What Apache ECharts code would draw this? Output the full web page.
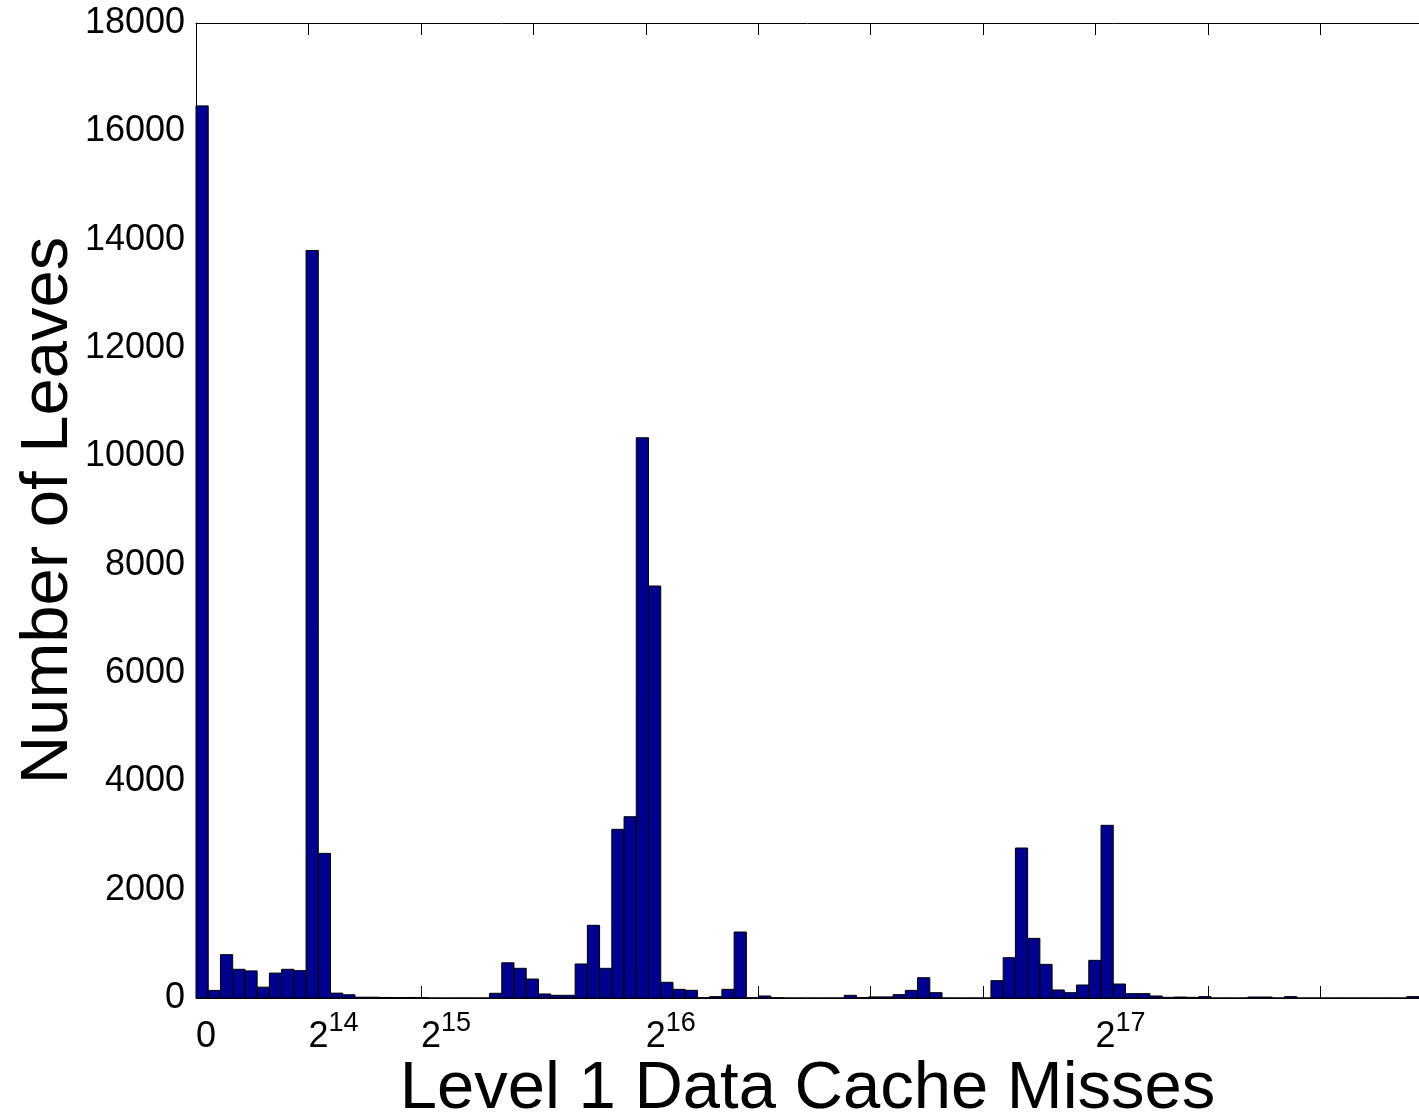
<!DOCTYPE html>
<html>
<head>
<meta charset="utf-8">
<script src="https://cdn.jsdelivr.net/npm/echarts@6/dist/echarts.min.js"></script>
<style>
  html, body { margin: 0; padding: 0; background: #fff; }
  #chart { width: 1419px; height: 1119px; }
</style>
</head>
<body>
<div id="chart"></div>
<script>
// Histogram: 100 equal bins of L1 data cache misses
var binWidth = 1782;
var binCount = 100;
var counts = [
  16470, 140, 800, 530, 500, 200, 460, 530, 505, 13800,
  2670, 90, 60, 15, 15, 10, 8, 10, 10, 0,
  0, 0, 0, 0, 87, 650, 548, 350, 74, 50,
  50, 628, 1342, 548, 3114, 3347, 10343, 7606, 290, 160,
  142, 5, 25, 160, 1218, 5, 37, 5, 0, 0,
  0, 0, 0, 50, 8, 20, 20, 62, 141, 375,
  98, 0, 0, 0, 0, 320, 744, 2769, 1101, 621,
  148, 98, 240, 695, 3188, 258, 80, 80, 37, 12,
  18, 12, 25, 0, 0, 0, 18, 18, 0, 25,
  0, 0, 0, 0, 0, 0, 0, 0, 0, 25
];
var xTickValues = [0, 16384, 32768, 65536, 131072];
var xTickBases = ['0', '2', '2', '2', '2'];
var xTickExponents = [' ', '14', '15', '16', '17'];
var yTicks = { min: 0, max: 18000, interval: 2000 };
var xTickInterval = 16384;

var histData = counts.map(function (c, i) { return [i * binWidth, (i + 1) * binWidth, c]; });

var chart = echarts.init(document.getElementById('chart'));
var font = 'Liberation Sans, Arial, Helvetica, sans-serif';
var xMax = binCount * binWidth;

chart.setOption({
  animation: false,
  backgroundColor: '#ffffff',
  textStyle: { fontFamily: font, color: '#000' },
  grid: { left: 196, right: 0, top: 23, bottom: 121, containLabel: false, outerBoundsMode: 'none' },
  xAxis: [
    {
      type: 'value', position: 'bottom',
      min: 0, max: xMax, interval: xTickInterval,
      name: 'Level 1 Data Cache Misses', nameLocation: 'middle', nameGap: 58, nameMoveOverlap: false,
      nameTextStyle: { fontSize: 67, color: '#000', fontFamily: font },
      axisLine: { show: true, lineStyle: { color: '#000', width: 1 } },
      axisTick: { show: true, inside: true, length: 12, lineStyle: { color: '#000', width: 1 } },
      splitLine: { show: false },
      axisLabel: {
        show: true, margin: 20, align: 'left', showMinLabel: true, showMaxLabel: false,
        color: '#000', fontFamily: font, fontSize: 27, lineHeight: 12,
        formatter: function (v) {
          var k = xTickValues.indexOf(v);
          if (k < 0) return '';
          // exponent on the first (short) line, shifted right past the base digit
          return '{g|}{s|' + xTickExponents[k] + '}\n{b|' + xTickBases[k] + '}';
        },
        rich: {
          g: { width: 20, lineHeight: 12, fontSize: 27 },
          s: { fontSize: 27, lineHeight: 12, fontFamily: font, color: '#000' },
          b: { fontSize: 36, lineHeight: 15, fontFamily: font, color: '#000' }
        }
      }
    },
    {
      type: 'value', position: 'top',
      min: 0, max: xMax, interval: xTickInterval,
      axisLine: { show: true, lineStyle: { color: '#000', width: 1 } },
      axisTick: { show: true, inside: true, length: 12, lineStyle: { color: '#000', width: 1 } },
      splitLine: { show: false },
      axisLabel: { show: false }
    }
  ],
  yAxis: {
    type: 'value', min: yTicks.min, max: yTicks.max, interval: yTicks.interval,
    name: 'Number of Leaves', nameLocation: 'middle', nameGap: 114, nameRotate: 90, nameMoveOverlap: false,
    nameTextStyle: { fontSize: 67, color: '#000', fontFamily: font },
    axisLine: { show: true, lineStyle: { color: '#000', width: 1 } },
    axisTick: { show: true, inside: true, length: 12, lineStyle: { color: '#000', width: 1 } },
    splitLine: { show: false },
    axisLabel: {
      fontSize: 36, margin: 11, color: '#000', fontFamily: font, padding: [4, 0, 0, 0],
      formatter: function (v) { return String(v); }
    }
  },
  series: [{
    type: 'custom',
    xAxisIndex: 0,
    data: histData,
    encode: { x: [0, 1], y: 2 },
    renderItem: function (params, api) {
      var x0 = api.value(0), x1 = api.value(1), y = api.value(2);
      var p0 = api.coord([x0, y]);
      var p1 = api.coord([x1, 0]);
      return {
        type: 'rect',
        shape: { x: p0[0], y: p0[1], width: p1[0] - p0[0], height: p1[1] - p0[1] },
        style: { fill: '#00008f', stroke: '#000000', lineWidth: 1 }
      };
    }
  }]
});
</script>
</body>
</html>
